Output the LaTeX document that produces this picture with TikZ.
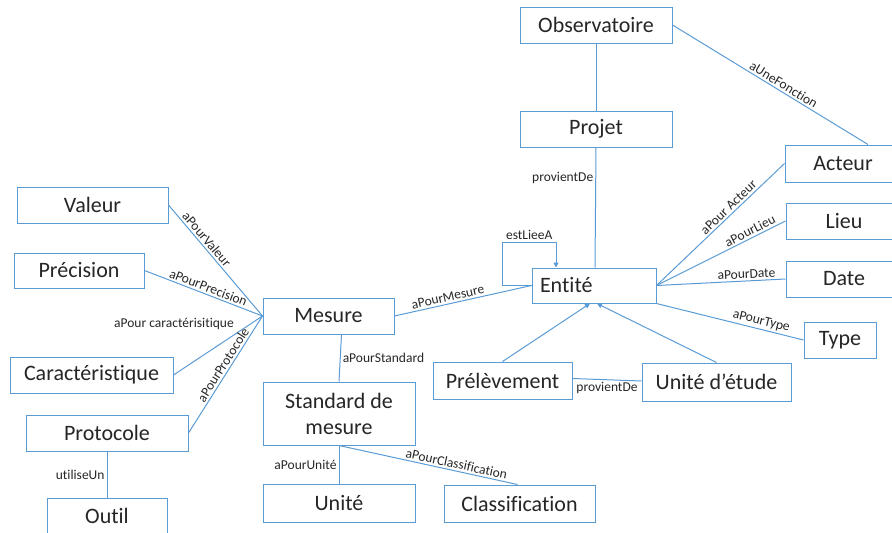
\documentclass[tikz,border=0pt]{standalone}
\usepackage{fontspec}
\setmainfont{Carlito}[Ligatures=NoCommon]
\usepackage{xcolor}
\usetikzlibrary{arrows.meta}
\definecolor{lienbleu}{HTML}{5B9BD5}
\definecolor{texte}{HTML}{262626}
\tikzset{
  classe/.style={draw=lienbleu, line width=1pt, fill=white, inner sep=0pt,
    minimum height=36pt, align=center, text=texte, font=\fontsize{22}{26}\selectfont},
  lien/.style={draw=lienbleu, line width=1pt},
  fleche/.style={lien, -{Triangle[length=5pt,width=5pt]}},
  rel/.style={font=\fontsize{13.5}{15}\selectfont, text=texte, inner sep=2pt}
}

\begin{document}
\begin{tikzpicture}[x=1pt, y=-1pt]
            \useasboundingbox (0,0) rectangle (892,533);

            %Nodes
            \node[classe, minimum width=152pt] at (596,25) (obs) {Observatoire};
            \node[classe, minimum width=152pt] at (596,129) (projet) {Projet};
            \node[classe, minimum width=116pt, minimum height=37pt] at (843,163.5) (acteur) {Acteur};
            \node[classe, minimum width=116pt] at (844,221) (lieu) {Lieu};
            \node[classe, minimum width=116pt] at (844,279) (date) {Date};
            \node[classe, minimum width=72pt] at (840,340) (type) {Type};
            \node[classe, text width=108pt, align=left, inner xsep=8pt, minimum height=35pt] at (594,285.5) (entite) {Entité};
            \node[classe, minimum width=139pt, minimum height=37pt] at (502.5,380.5) (prelev) {Prélèvement};
            \node[classe, minimum width=149pt, minimum height=38pt] at (716.5,382) (uetude) {Unité d’étude};
            \node[classe, minimum width=131pt] at (328.5,316) (mesure) {Mesure};
            \node[classe, minimum width=151pt] at (92.5,205) (valeur) {Valeur};
            \node[classe, minimum width=130pt, minimum height=35pt] at (79,270.5) (precision) {Précision};
            \node[classe, minimum width=163pt] at (91.5,375) (caract) {Caractéristique};
            \node[classe, minimum width=162pt] at (107,433) (protocole) {Protocole};
            \node[classe, minimum width=120pt] at (107,516) (outil) {Outil};
            \node[classe, minimum width=152pt, minimum height=63pt] at (339,413.5) (standard) {Standard de\\mesure};
            \node[classe, minimum width=152pt, minimum height=38pt] at (339,503) (unite) {Unité};
            \node[classe, minimum width=151pt, minimum height=37pt] at (519.5,503.5) (classif) {Classification};
            \node[rel] at (174,324) (caracttxt) {aPour caractérisitique};

            %Lines
            \draw[lien] (obs) -- (projet);
            \draw[lien] (projet.south) -- ([xshift=1pt]entite.north) node[pos=0.25, left, inner sep=1pt, rel] {provientDe};
            \draw[lien] (obs.east) -- ([xshift=25pt]acteur.north) node[pos=0.55, above, sloped, rel] {aUneFonction};
            \draw[lien] (entite.east) -- (acteur.west) node[pos=0.6, above, sloped, rel] {aPour Acteur};
            \draw[lien] (entite.east) -- (lieu.west) node[pos=0.75, above, sloped, rel] {aPourLieu};
            \draw[lien] (entite.east) -- (date.west) node[pos=0.7, above, sloped, rel] {aPourDate};
            \draw[lien] (entite.south east) -- (type.west) node[pos=0.7, above, sloped, rel] {aPourType};
            \draw[fleche] (prelev.north) -- ([xshift=-4pt]entite.south);
            \draw[fleche] (uetude.north) -- ([xshift=3pt]entite.south);
            \draw[lien] ([yshift=2pt]prelev.east) -- ([yshift=1pt]uetude.west) node[midway, below, rel] {provientDe};
            \draw[fleche] (entite.west) -- ++(-29,0) -- ++(0,-43) -| ([xshift=-38pt]entite.north) node[pos=0.25, above, rel] {estLieeA};
            \draw[lien] (mesure.east) -- (entite.west) node[pos=0.4, above, sloped, rel] {aPourMesure};
            \draw[lien] (valeur.east) -- (mesure.west) node[pos=0.35, above, sloped, rel] {aPourValeur};
            \draw[lien] (precision.east) -- (mesure.west) node[pos=0.52, above, sloped, rel] {aPourPrecision};
            \draw[lien] (caract.east) -- (mesure.west);
            \draw[lien] (protocole.east) -- (mesure.west) node[pos=0.55, above, sloped, rel] {aPourProtocole};
            \draw[lien] ([xshift=13pt]mesure.south) -- (standard.north) node[midway, right, rel] {aPourStandard};
            \draw[lien] (standard.south) -- (unite.north) node[midway, left, rel] {aPourUnité};
            \draw[lien] (standard.south) -- ([xshift=-2pt]classif.north) node[pos=0.65, above, sloped, rel] {aPourClassification};
            \draw[lien] (protocole) -- (outil) node[midway, left, rel] {utiliseUn};
        \end{tikzpicture}
\end{document}
